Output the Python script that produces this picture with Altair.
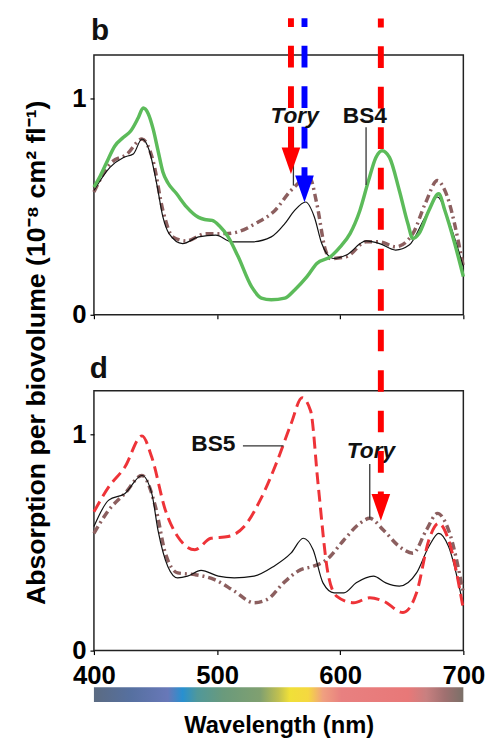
import altair as alt
import pandas as pd

FONT = "Liberation Sans"
W, H = 374, 263
SPACING = 77
X_DOMAIN = [400, 700]
Y_DOMAIN = [0, 1.2]
X_TICKS = [400, 500, 600, 700]
Y_TICKS = [0, 1]
Y_TITLE = "Absorption per biovolume (10\u207b\u2078 cm\u00b2 fl\u207b\u00b9)"
X_TITLE = "Wavelength (nm)"

# ---------------- panel b ----------------
b_bs4_wl = [400, 405, 410, 417, 424, 430, 436, 440, 444, 448, 452, 456, 460, 467, 475, 485, 490, 496, 502, 509,
            517, 528, 536, 544, 555, 563, 573, 581, 592, 600, 608, 616, 623, 629, 634, 640, 648, 655, 659, 664,
            672, 680, 685, 693, 700]
b_bs4_val = [0.59, 0.64, 0.70, 0.78, 0.82, 0.85, 0.91, 0.955, 0.93, 0.86, 0.76, 0.66, 0.61, 0.56, 0.50, 0.45, 0.44, 0.436, 0.41, 0.36,
             0.27, 0.13, 0.077, 0.069, 0.077, 0.115, 0.176, 0.237, 0.268, 0.314, 0.375, 0.482, 0.62, 0.727, 0.758, 0.727, 0.574, 0.42, 0.352, 0.375,
             0.482, 0.559, 0.482, 0.329, 0.176]

b_black_wl = [400, 413, 424, 432, 439, 445, 451, 456, 461, 472, 485, 499, 512, 528, 544, 555, 563, 572, 579, 585,
              589, 595, 605, 621, 632, 645, 656, 669, 679, 688, 700]
b_black_val = [0.574, 0.681, 0.727, 0.743, 0.812, 0.758, 0.605, 0.452, 0.375, 0.329, 0.360, 0.368, 0.337, 0.337, 0.360, 0.421, 0.482, 0.521, 0.452, 0.329,
               0.283, 0.260, 0.276, 0.341, 0.329, 0.299, 0.322, 0.452, 0.544, 0.436, 0.222]

b_tory_wl = [400, 413, 427, 439, 448, 456, 464, 475, 491, 507, 517, 531, 547, 560, 575, 581, 588, 592, 605, 621,
             632, 645, 659, 669, 679, 685, 700]
b_tory_val = [0.567, 0.697, 0.743, 0.812, 0.712, 0.482, 0.360, 0.341, 0.375, 0.375, 0.383, 0.421, 0.482, 0.574, 0.636, 0.513, 0.299, 0.260, 0.268, 0.337,
              0.337, 0.314, 0.375, 0.513, 0.620, 0.574, 0.222]

# ---------------- panel d ----------------
d_bs5_wl = [400, 412, 425, 439, 447, 458, 468, 482, 495, 509, 522, 535, 549, 560, 569, 576, 582, 590, 597, 611,
            624, 635, 651, 662, 672, 680, 688, 700]
d_bs5_val = [0.641, 0.756, 0.847, 0.992, 0.893, 0.649, 0.527, 0.466, 0.519, 0.527, 0.573, 0.695, 0.878, 1.046, 1.168, 1.107, 0.771, 0.359, 0.252, 0.221,
             0.244, 0.229, 0.176, 0.267, 0.511, 0.588, 0.511, 0.191]

d_black_wl = [400, 412, 425, 439, 447, 452, 460, 468, 476, 487, 501, 514, 530, 546, 560, 570, 578, 586, 595, 603,
              613, 627, 637, 648, 662, 672, 680, 688, 700]
d_black_val = [0.573, 0.695, 0.725, 0.809, 0.725, 0.557, 0.389, 0.336, 0.344, 0.371, 0.344, 0.336, 0.344, 0.389, 0.450, 0.519, 0.466, 0.313, 0.267, 0.267,
               0.313, 0.344, 0.313, 0.298, 0.359, 0.481, 0.542, 0.481, 0.206]

d_tory_wl = [400, 412, 425, 439, 450, 458, 468, 482, 498, 514, 530, 541, 554, 568, 578, 589, 603, 616, 624, 635,
             648, 659, 670, 679, 688, 700]
d_tory_val = [0.542, 0.649, 0.725, 0.809, 0.664, 0.450, 0.359, 0.351, 0.328, 0.275, 0.221, 0.237, 0.313, 0.374, 0.389, 0.420, 0.511, 0.588, 0.611, 0.557,
              0.481, 0.450, 0.557, 0.634, 0.557, 0.267]

# ---------------- annotations ----------------
b_arrow_wl = [560, 571]
b_arrow_tip = [0.65, 0.52]
b_arrow_top = [1.37, 1.37]
b_arrow_color = ["#ff0000", "#0000ff"]

d_arrow_wl = [633]
d_arrow_tip = [0.60]
d_arrow_top = [2.92]
d_arrow_color = ["#ff0000"]

HEAD_LEN = 0.12

panel_letters = ["b", "d"]
letter_wl = [405, 404]
letter_y = [1.31, 1.30]

b_lab_text = ["Tory", "BS4"]
b_lab_wl = [563, 620]
b_lab_y = [0.917, 0.917]
b_lead_wl = [562, 621]
b_lead_top = [0.866, 0.866]
b_lead_bot = [0.597, 0.600]

d_lab_text = ["BS5", "Tory"]
d_lab_wl = [497, 625]
d_lab_y = [0.954, 0.923]
d_hlead_x1 = [521]
d_hlead_x2 = [554]
d_hlead_y = [0.946]
d_vlead_wl = [624]
d_vlead_top = [0.862]
d_vlead_bot = [0.61]

# colour bar (spectrum strip under the wavelength axis)
bar_wl = [400, 700]
bar_y = [-0.169, -0.237]
bar_offsets = [0.00, 0.10, 0.20, 0.24, 0.28, 0.35, 0.45, 0.50, 0.53, 0.58, 0.62, 0.67, 0.85, 0.90, 0.95, 1.00]
bar_colors = ["#5b6b82", "#5670a0", "#6878b8", "#2890d0", "#50989a", "#6a9a7c", "#80a070", "#c0c050",
              "#f0e038", "#f5d840", "#f0a080", "#e88080", "#e87878", "#c88080", "#a07070", "#7a7068"]

C_GREEN = "#5cbb5a"
C_BROWN = "#8c5f5f"
C_RED = "#ee3338"
C_BLACK = "#111111"

xscale = alt.Scale(domain=X_DOMAIN, nice=False, zero=False)
yscale = alt.Scale(domain=Y_DOMAIN, nice=False, zero=False)


def x_axis(labels):
    if labels:
        return alt.Axis(values=X_TICKS, labels=True, labelFontSize=26, labelFontWeight="bold", labelPadding=8,
                        labelFlush=False, labelOverlap=False, tickSize=4, tickWidth=1.2, domain=False,
                        grid=False, title=X_TITLE, titleFontSize=24, titleFontWeight="bold",
                        titleY=76, titleBaseline="middle", titleAlign="center")
    return alt.Axis(values=X_TICKS, labels=False, tickSize=4, tickWidth=1.2, domain=False, grid=False, title=None)


def y_axis(with_title):
    common = dict(values=Y_TICKS, format="d", labelFontSize=26, labelFontWeight="bold", labelPadding=4,
                  labelFlush=False, tickSize=4, tickWidth=1.2, domain=False, grid=False)
    if with_title:
        return alt.Axis(title=Y_TITLE, titleFontSize=27, titleFontWeight="bold", titleX=-58, titleY=301,
                        titleAngle=270, titleAlign="center", titleBaseline="middle", **common)
    return alt.Axis(title=None, **common)


def X(field, labels):
    return alt.X(field, type="quantitative", scale=xscale, axis=x_axis(labels))


def Y(field, title):
    return alt.Y(field, type="quantitative", scale=yscale, axis=y_axis(title))


def line(wl, val, labels, title, **mk):
    df = pd.DataFrame({"wl": wl, "val": val})
    return alt.Chart(df).mark_line(interpolate="monotone", **mk).encode(x=X("wl", labels), y=Y("val", title))


def arrows(wl, tip, top, colors, labels, title):
    df = pd.DataFrame({"wl": wl, "tip": tip, "top": top, "col": colors})
    df["headtop"] = df["tip"] + HEAD_LEN
    rule = alt.Chart(df).mark_rule(strokeWidth=6, strokeDash=[22, 19], strokeDashOffset=13, strokeCap="butt").encode(
        x=X("wl", labels), y=Y("top", title), y2="headtop:Q", color=alt.Color("col:N", scale=None))
    head = alt.Chart(df).mark_point(shape="M -0.7 -2 L 0.7 -2 L 0 0 Z", size=729, filled=True, opacity=1,
                                    strokeWidth=0).encode(
        x=X("wl", labels), y=Y("tip", title), color=alt.Color("col:N", scale=None))
    return [rule, head]


def texts(txt, wl, y, labels, title, italic, size=23):
    df = pd.DataFrame({"t": txt, "wl": wl, "y": y})
    mk = dict(fontSize=size, font=FONT, fontWeight="bold", align="center", baseline="middle", color="#111111")
    if italic:
        mk["fontStyle"] = "italic"
    return alt.Chart(df).mark_text(**mk).encode(x=X("wl", labels), y=Y("y", title), text="t:N")


def vleads(wl, top, bot, labels, title):
    df = pd.DataFrame({"wl": wl, "top": top, "bot": bot})
    return alt.Chart(df).mark_rule(color="#333333", strokeWidth=1.3).encode(
        x=X("wl", labels), y=Y("top", title), y2="bot:Q")


# ---- panel b ----
pb = alt.layer(
    line(b_tory_wl, b_tory_val, False, True, color=C_BROWN, strokeWidth=3.5, strokeDash=[8, 4, 2, 4]),
    line(b_black_wl, b_black_val, False, True, color=C_BLACK, strokeWidth=1.2),
    line(b_bs4_wl, b_bs4_val, False, True, color=C_GREEN, strokeWidth=3.5),
    vleads(b_lead_wl, b_lead_top, b_lead_bot, False, True),
    *arrows(b_arrow_wl, b_arrow_tip, b_arrow_top, b_arrow_color, False, True),
    texts([b_lab_text[0]], [b_lab_wl[0]], [b_lab_y[0]], False, True, True),
    texts([b_lab_text[1]], [b_lab_wl[1]], [b_lab_y[1]], False, True, False),
    texts([panel_letters[0]], [letter_wl[0]], [letter_y[0]], False, True, False, size=30),
).properties(width=W, height=H)

# ---- panel d ----
hl = pd.DataFrame({"x1": d_hlead_x1, "x2": d_hlead_x2, "y": d_hlead_y})
hlead = alt.Chart(hl).mark_rule(color="#333333", strokeWidth=1.3).encode(
    x=X("x1", True), x2="x2:Q", y=Y("y", False))

grad = alt.LinearGradient(gradient="linear",
                          stops=[alt.GradientStop(color=c, offset=o) for o, c in zip(bar_offsets, bar_colors)],
                          x1=0, x2=1, y1=0, y2=0)
bar_df = pd.DataFrame({"x1": [bar_wl[0]], "x2": [bar_wl[1]], "y1": [bar_y[0]], "y2": [bar_y[1]]})
bar = alt.Chart(bar_df).mark_rect(color=grad).encode(
    x=X("x1", True), x2="x2:Q", y=Y("y1", False), y2="y2:Q")

pd_ = alt.layer(
    bar,
    line(d_tory_wl, d_tory_val, True, False, color=C_BROWN, strokeWidth=3.5, strokeDash=[8, 4, 2, 4]),
    line(d_black_wl, d_black_val, True, False, color=C_BLACK, strokeWidth=1.2),
    line(d_bs5_wl, d_bs5_val, True, False, color=C_RED, strokeWidth=3, strokeDash=[12, 6]),
    hlead,
    vleads(d_vlead_wl, d_vlead_top, d_vlead_bot, True, False),
    texts([d_lab_text[0]], [d_lab_wl[0]], [d_lab_y[0]], True, False, False),
    texts([d_lab_text[1]], [d_lab_wl[1]], [d_lab_y[1]], True, False, True),
    texts([panel_letters[1]], [letter_wl[1]], [letter_y[1]], True, False, False, size=30),
    *arrows(d_arrow_wl, d_arrow_tip, d_arrow_top, d_arrow_color, True, False),
).properties(width=W, height=H)

chart = alt.vconcat(pb, pd_, spacing=SPACING, bounds="flush").properties(
    padding={"left": 14, "top": 1, "right": 5, "bottom": 5}
).configure(font=FONT, background="white").configure_view(
    stroke="#222222", strokeWidth=1.5
).configure_axis(labelColor="black", tickColor="black", titleColor="black", labelFont=FONT, titleFont=FONT)

chart.save("out.html", embed_options={"renderer": "svg", "actions": False})
